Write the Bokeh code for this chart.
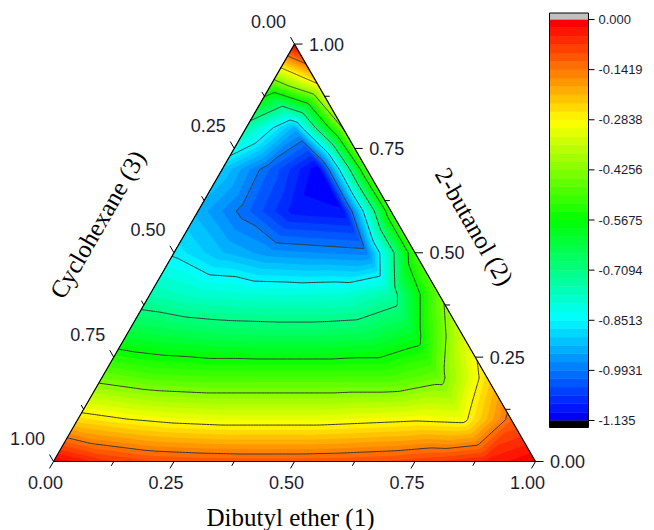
import colorsys
import numpy as np
from bokeh.plotting import figure
from bokeh.models import Range1d
from bokeh.embed import file_html
from bokeh.resources import INLINE
from bokeh.core.properties import value

# ---------------- data ----------------
# values on a ternary grid, step 0.1; row k has x2 = k/10 and x1 = 0, 0.1, ... , 1 - x2
grid_step = 0.1
z_x2_00 = [0.0, -0.06, -0.09, -0.10, -0.105, -0.105, -0.10, -0.09, -0.07, -0.04, 0.0]
z_x2_01 = [-0.25, -0.28, -0.30, -0.31, -0.31, -0.31, -0.30, -0.29, -0.30, -0.12]
z_x2_02 = [-0.45, -0.48, -0.49, -0.49, -0.49, -0.49, -0.49, -0.45, -0.25]
z_x2_03 = [-0.62, -0.64, -0.655, -0.66, -0.66, -0.65, -0.60, -0.33]
z_x2_04 = [-0.76, -0.79, -0.80, -0.805, -0.80, -0.75, -0.45]
z_x2_05 = [-0.86, -0.92, -0.96, -0.97, -0.98, -0.50]
z_x2_06 = [-0.93, -1.01, -1.10, -1.11, -0.50]
z_x2_07 = [-0.90, -1.02, -1.13, -0.48]
z_x2_08 = [-0.75, -0.93, -0.42]
z_x2_09 = [-0.50, -0.30]
z_x2_10 = [0.0]
rows = [z_x2_00, z_x2_01, z_x2_02, z_x2_03, z_x2_04, z_x2_05,
        z_x2_06, z_x2_07, z_x2_08, z_x2_09, z_x2_10]

z_min, z_max = -1.135, 0.0
n_bands = 48
colorbar_ticks = [0.0, -0.1419, -0.2838, -0.4256, -0.5675, -0.7094, -0.8513, -0.9931, -1.135]
colorbar_labels = ["0.000", "-0.1419", "-0.2838", "-0.4256", "-0.5675",
                   "-0.7094", "-0.8513", "-0.9931", "-1.135"]
line_levels = colorbar_ticks[1:-1][::-1]

tern_major = [0.0, 0.25, 0.5, 0.75, 1.0]
tern_labels = ["0.00", "0.25", "0.50", "0.75", "1.00"]
tern_minor = [0.125, 0.375, 0.625, 0.875]
title_1 = "Dibutyl ether (1)"
title_2 = "2-butanol (2)"
title_3 = "Cyclohexane (3)"

# ---------------- layout constants ----------------
W, H = 654, 530
S = 482.0          # triangle side in px
BLX, BLY = 53.0, 461.0   # bottom-left vertex in px
R3 = np.sqrt(3) / 2


def px(v):
    return v / S


def from_px(x, y):
    return (x - BLX) / S, (BLY - y) / S


def tern(x1, x2):
    x1 = np.asarray(x1, float)
    x2 = np.asarray(x2, float)
    return x1 + x2 / 2.0, x2 * R3


# ---------------- field on a fine grid ----------------
n = int(round(1 / grid_step))
Zg = np.full((n + 1, n + 1), np.nan)
for j, r in enumerate(rows):
    Zg[j, :len(r)] = r

N = 160
u = np.linspace(0, 1, N + 1)
v = np.linspace(0, 1, N + 1)
U, V = np.meshgrid(u, v)
X2 = V
X1 = U * (1 - V)

a = X1 * n
b = X2 * n
i = np.clip(np.floor(a + 1e-9).astype(int), 0, n - 1)
j = np.clip(np.floor(b + 1e-9).astype(int), 0, n - 1)
over = (i + j) >= n
shift_i = over & (i > 0)
shift_j = over & ~(i > 0)
i = np.where(shift_i, i - 1, i)
j = np.where(shift_j, j - 1, j)
fa = a - i
fb = b - j
Zs = np.nan_to_num(Zg, nan=0.0)
z00 = Zs[j, i]
z10 = Zs[j, i + 1]
z01 = Zs[j + 1, i]
z11 = Zs[j + 1, i + 1]
lower = (fa + fb) <= 1 + 1e-9
zl = z00 + fa * (z10 - z00) + fb * (z01 - z00)
zu = z11 + (1 - fa) * (z01 - z11) + (1 - fb) * (z10 - z11)
Z = np.where(lower, zl, zu)
Z = np.clip(Z, z_min + 1e-6, z_max)
XX, YY = tern(X1, X2)

# palette: hue from blue (lowest) to red (highest)
palette = []
for k in range(n_bands):
    h = (240.0 * (n_bands - 1 - k) / (n_bands - 1)) / 360.0
    r_, g_, b_ = colorsys.hsv_to_rgb(h, 1.0, 1.0)
    palette.append("#%02x%02x%02x" % (int(round(r_ * 255)), int(round(g_ * 255)), int(round(b_ * 255))))
fill_levels = list(np.linspace(z_min, z_max, n_bands + 1))

# ---------------- figure ----------------
x0, y0 = from_px(0, H)
x1_, y1_ = from_px(W, 0)
p = figure(width=W, height=H, x_range=Range1d(x0, x1_), y_range=Range1d(y0, y1_),
           x_axis_type=None, y_axis_type=None, toolbar_location=None,
           output_backend="svg", min_border=0)
p.outline_line_color = None
p.background_fill_color = "white"
p.border_fill_color = "white"

# filled bands, painted as nested regions (top band first) so no seams show
for k in range(n_bands - 1, -1, -1):
    p.contour(XX, YY, Z, levels=[z_min - 1.0, fill_levels[k + 1] + (1e-6 if k == n_bands - 1 else 0.0)],
              fill_color=palette[k], line_color=None)
p.contour(XX, YY, Z, levels=line_levels, fill_color=None, line_color="#3a3a3a", line_width=1)

# triangle frame
vx, vy = tern([0, 1, 0, 0], [0, 0, 1, 0])
p.line(vx, vy, line_color="black", line_width=1.2)

# ternary ticks
maj_len, min_len = px(8), px(5)
font_tick = "18px"
tick_color = "#1c1c30"


def add_ticks(vals, length):
    vals = np.asarray(vals, float)
    # bottom axis (x1): point (x1=t, x2=0), direction down-left
    bx, by = tern(vals, np.zeros_like(vals))
    p.segment(bx, by, bx - 0.5 * length, by - R3 * length, line_color="black", line_width=1)
    # right axis (x2): point (x1=1-t, x2=t), direction right
    rx, ry = tern(1 - vals, vals)
    p.segment(rx, ry, rx + length, ry, line_color="black", line_width=1)
    # left axis (x3): point (x1=0, x2=1-t), direction up-left
    lx, ly = tern(np.zeros_like(vals), 1 - vals)
    p.segment(lx, ly, lx - 0.5 * length, ly + R3 * length, line_color="black", line_width=1)


add_ticks(tern_major, maj_len)
add_ticks(tern_minor, min_len)

tv = np.asarray(tern_major)
bx, by = tern(tv, np.zeros_like(tv))
p.text(bx + px(-8), by + px(-21), text=tern_labels, text_align="center", text_baseline="middle",
       text_font=value("Liberation Sans"), text_font_size=font_tick, text_color=tick_color)
rx, ry = tern(1 - tv, tv)
p.text(rx + px(32), ry, text=tern_labels, text_align="center", text_baseline="middle",
       text_font=value("Liberation Sans"), text_font_size=font_tick, text_color=tick_color)
lx, ly = tern(np.zeros_like(tv), 1 - tv)
p.text(lx + px(-26), ly + px(23), text=tern_labels, text_align="center", text_baseline="middle",
       text_font=value("Liberation Sans"), text_font_size=font_tick, text_color=tick_color)

# axis titles
tx, ty = from_px(290, 517)
p.text([tx], [ty], text=[title_1], text_align="center", text_baseline="middle",
       text_font=value("Liberation Serif"), text_font_size="25px", text_color="black")
tx, ty = from_px(97, 224)
p.text([tx], [ty], text=[title_3], angle=np.pi / 3, text_align="center", text_baseline="middle",
       text_font=value("Liberation Serif"), text_font_size="25px", text_color="black")
tx, ty = from_px(474, 226)
p.text([tx], [ty], text=[title_2], angle=-np.pi / 3, text_align="center", text_baseline="middle",
       text_font=value("Liberation Serif"), text_font_size="25px", text_color="black")

# ---------------- colour bar ----------------
cb_top_px, cb_bot_px = 19.0, 420.0
per_px = (z_max - z_min) / (cb_bot_px - cb_top_px)
p.extra_y_ranges = {"cb": Range1d(z_min - (H - cb_bot_px) * per_px, z_max + cb_top_px * per_px)}
cbl, _ = from_px(549, 0)
cbr, _ = from_px(588, 0)
p.quad(left=cbl, right=cbr, bottom=fill_levels[:-1], top=fill_levels[1:], fill_color=palette,
       line_color=palette, line_width=0.5, y_range_name="cb")
ext_hi = 6.5 * per_px
ext_lo = 7.0 * per_px
p.quad(left=[cbl], right=[cbr], bottom=[z_max], top=[z_max + ext_hi], fill_color="#c0c0c0",
       line_color=None, y_range_name="cb")
p.quad(left=[cbl], right=[cbr], bottom=[z_min - ext_lo], top=[z_min], fill_color="black",
       line_color=None, y_range_name="cb")
p.quad(left=[cbl], right=[cbr], bottom=[z_min - ext_lo], top=[z_max + ext_hi], fill_color=None,
       line_color="black", line_width=1, y_range_name="cb")
ct = np.asarray(colorbar_ticks)
p.segment(x0=cbr, x1=cbr + px(6), y0=ct, y1=ct, line_color="black", line_width=1, y_range_name="cb")
p.text(np.full(len(ct), cbr + px(10)), ct, text=colorbar_labels, text_align="left",
       text_baseline="middle", text_font=value("Liberation Sans"), text_font_size="13px",
       text_color=tick_color, y_range_name="cb")

open("out.html", "w").write(file_html(p, INLINE))
